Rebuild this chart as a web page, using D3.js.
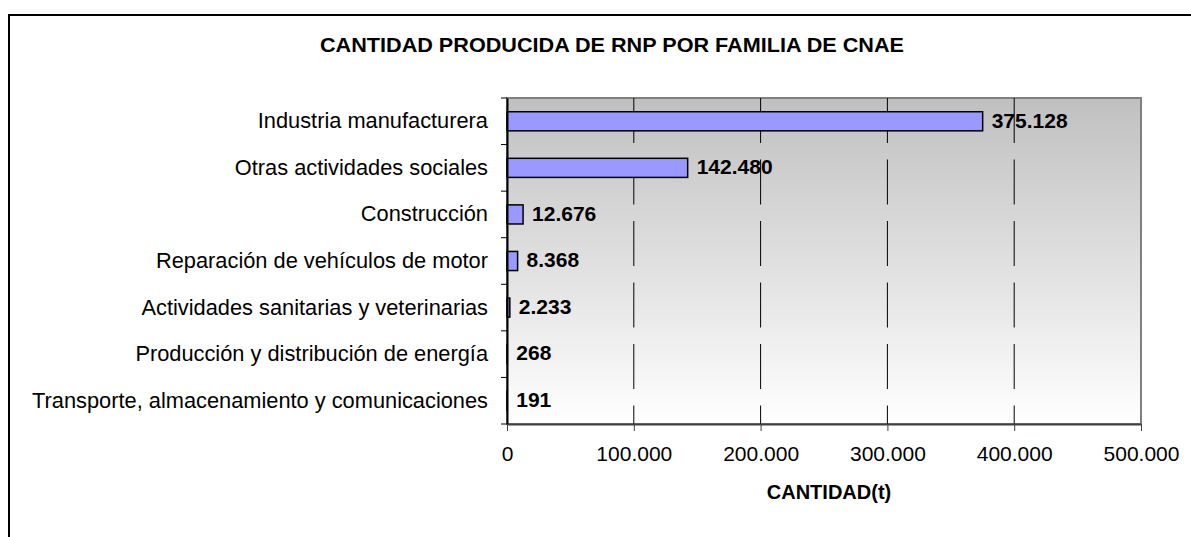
<!DOCTYPE html>
<html>
<head>
<meta charset="utf-8">
<script src="https://cdn.jsdelivr.net/npm/d3@7"></script>
<style>
  body { margin: 0; background: #fff; }
  text { font-family: "Liberation Sans", Arial, sans-serif; fill: #000; }
</style>
</head>
<body>
<svg id="chart" width="1191" height="537"></svg>
<script>
/* chart data */
var categories = [
  "Industria manufacturera",
  "Otras actividades sociales",
  "Construcción",
  "Reparación de vehículos de motor",
  "Actividades sanitarias y veterinarias",
  "Producción y distribución de energía",
  "Transporte, almacenamiento y comunicaciones"
];
var values = [375128, 142480, 12676, 8368, 2233, 268, 191];
var xTicks = [0, 100000, 200000, 300000, 400000, 500000];

var title = "CANTIDAD PRODUCIDA DE RNP POR FAMILIA DE CNAE";
var xTitle = "CANTIDAD(t)";

var es = d3.formatLocale({ decimal: ",", thousands: ".", grouping: [3], currency: ["", "€"] });
var fmt = es.format(",d");

var svg = d3.select("#chart");
var margin = { left: 507, top: 98, right: 1141, bottom: 424 };

var x = d3.scaleLinear().domain([0, 500000]).range([margin.left, margin.right]);
var y = d3.scaleBand().domain(categories).range([margin.top, margin.bottom]).paddingInner(0.59).paddingOuter(0.295);
var yb = d3.scaleBand().domain(categories).range([margin.top, margin.bottom]);

// outer frame (only left and top visible)
svg.append("path")
  .attr("d", "M9,537 L9,15 L1191,15")
  .attr("fill", "none").attr("stroke", "#000").attr("stroke-width", 2);

// plot background gradient
var grad = svg.append("defs").append("linearGradient")
  .attr("id", "bg").attr("x1", 0).attr("y1", 0).attr("x2", 0).attr("y2", 1);
grad.append("stop").attr("offset", "0%").attr("stop-color", "#c0c0c0");
grad.append("stop").attr("offset", "100%").attr("stop-color", "#ffffff");

svg.append("rect")
  .attr("x", margin.left).attr("y", margin.top)
  .attr("width", margin.right - margin.left).attr("height", margin.bottom - margin.top)
  .attr("fill", "url(#bg)")
  .attr("stroke", "#808080").attr("stroke-width", 2);

// dashed gridlines
svg.append("g").selectAll("line")
  .data(xTicks.slice(1, -1))
  .enter().append("line")
  .attr("x1", d => x(d)).attr("x2", d => x(d))
  .attr("y1", margin.top).attr("y2", margin.bottom)
  .attr("stroke", "#000").attr("stroke-width", 1)
  .attr("stroke-dasharray", "45,16.5");

// bars
svg.append("g").selectAll("rect")
  .data(values)
  .enter().append("rect")
  .attr("x", x(0))
  .attr("y", (d, i) => y(categories[i]))
  .attr("width", d => x(d) - x(0))
  .attr("height", y.bandwidth())
  .attr("fill", "#9999ff")
  .attr("stroke", "#000").attr("stroke-width", 1.5);

// value labels
svg.append("g").selectAll("text")
  .data(values)
  .enter().append("text")
  .attr("x", d => x(d) + 9)
  .attr("y", (d, i) => yb(categories[i]) + yb.bandwidth() / 2 - 1)
  .attr("dy", "0.35em")
  .style("font-size", "21px").style("font-weight", "bold")
  .text(d => fmt(d));

// y axis
var yAxis = svg.append("g").attr("transform", "translate(" + margin.left + ",0)")
  .call(d3.axisLeft(yb).tickSize(0).tickPadding(19));
yAxis.select(".domain").attr("stroke", "#000").attr("stroke-width", 2);
yAxis.selectAll("text").style("font-size", "21.8px").attr("font-family", null);
// y tick marks at band boundaries
yAxis.selectAll(".bnd")
  .data(d3.range(categories.length + 1))
  .enter().append("line")
  .attr("x1", -6).attr("x2", 0)
  .attr("y1", i => margin.top + i * yb.step()).attr("y2", i => margin.top + i * yb.step())
  .attr("stroke", "#000").attr("stroke-width", 1);

// x axis
var xAxis = svg.append("g").attr("transform", "translate(0," + margin.bottom + ")")
  .call(d3.axisBottom(x).tickValues(xTicks).tickSize(7).tickPadding(15).tickFormat(fmt).tickSizeOuter(0));
xAxis.select(".domain").attr("stroke", "#404040").attr("stroke-width", 2);
xAxis.selectAll(".tick line").attr("stroke", "#404040");
xAxis.selectAll("text").style("font-size", "21px").attr("font-family", null);

// titles
svg.append("text")
  .attr("x", 612).attr("y", 52)
  .attr("text-anchor", "middle")
  .attr("textLength", 584).attr("lengthAdjust", "spacingAndGlyphs")
  .style("font-size", "20px").style("font-weight", "bold")
  .text(title);

svg.append("text")
  .attr("x", 829).attr("y", 499)
  .attr("text-anchor", "middle")
  .style("font-size", "20px").style("font-weight", "bold")
  .text(xTitle);
</script>
</body>
</html>
